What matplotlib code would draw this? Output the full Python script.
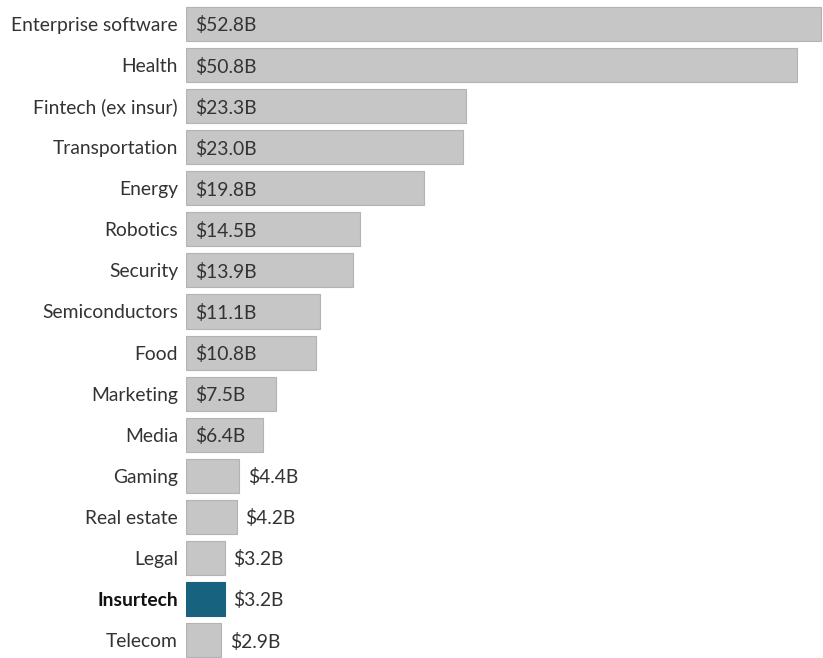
import matplotlib.pyplot as plt
from matplotlib import transforms

# Funding by sector, billions USD
sectors = ["Enterprise software", "Health", "Fintech (ex insur)", "Transportation",
           "Energy", "Robotics", "Security", "Semiconductors", "Food", "Marketing",
           "Media", "Gaming", "Real estate", "Legal", "Insurtech", "Telecom"]
funding = [52.8, 50.8, 23.3, 23.0, 19.8, 14.5, 13.9, 11.1, 10.8, 7.5,
           6.4, 4.4, 4.2, 3.2, 3.2, 2.9]
highlight = "Insurtech"

GRAY = "#c6c6c6"
TEAL = "#16627f"
TEXT = "#333333"
FS = 13.9

plt.rcParams['font.family'] = ['Lato', 'DejaVu Sans']

fig = plt.figure(figsize=(8.23, 6.58), dpi=100)
left = 186 / 823
ax = fig.add_axes([left, 0, 1 - left, 1])

ypos = list(range(len(sectors)))
colors = [TEAL if s == highlight else GRAY for s in sectors]
edges = [TEAL if s == highlight else "#b3b3b3" for s in sectors]
ax.barh(ypos, funding, height=0.83, color=colors, edgecolor=edges, linewidth=0.8)

ax.set_xlim(0, 52.8 * 1.0025)
ax.set_ylim(15.437, -0.584)
ax.axis('off')

# small pixel offsets for labels, nudged down a touch to sit centred on the bars
pad = transforms.offset_copy(ax.transData, fig=fig, x=9, y=-1.5, units='dots')
lab = transforms.offset_copy(ax.transData, fig=fig, x=-8, y=-1.5, units='dots')

for y, s, v in zip(ypos, sectors, funding):
    ax.text(0, y, s, transform=lab, ha='right', va='center', fontsize=FS,
            color='#111111' if s == highlight else TEXT,
            fontweight='bold' if s == highlight else 'normal')
    txt = f"${v:.1f}B"
    if v >= 6:
        ax.text(0, y, txt, transform=pad, ha='left', va='center', fontsize=FS, color=TEXT)
    else:
        ax.text(v, y, txt, transform=pad, ha='left', va='center', fontsize=FS, color=TEXT)

fig.savefig("out.png", dpi=100, facecolor='white')
